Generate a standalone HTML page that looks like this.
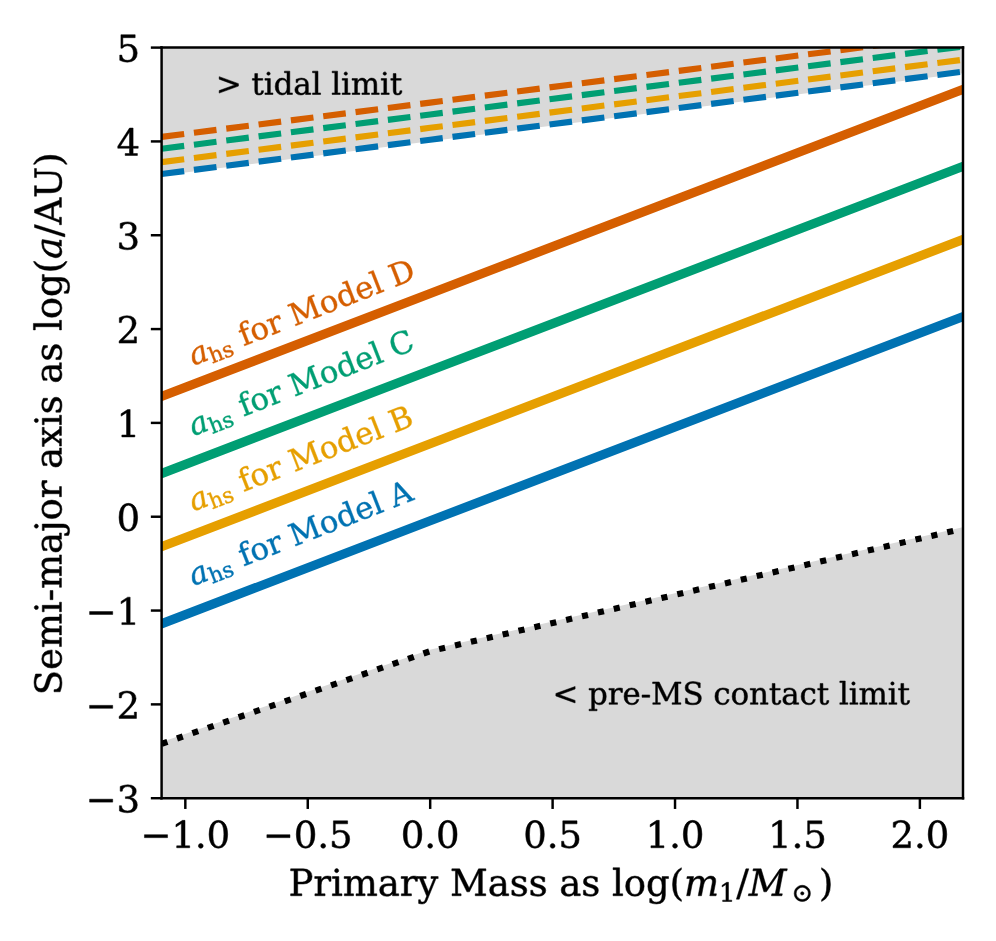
<!DOCTYPE html>
<html><head><meta charset="utf-8"><style>html,body{margin:0;padding:0;background:#fff;font-family:"Liberation Serif",serif;}svg{display:block}g[id^="text_"] path{vector-effect:non-scaling-stroke;stroke-width:0.5px;stroke-linejoin:round}g[id^="text_"]>g{stroke:#000}</style></head><body><svg width="996" height="941" viewBox="0 0 324.000049 306.10848" version="1.1"> <defs> <style type="text/css">*{stroke-linejoin: round; stroke-linecap: butt}</style> </defs> <g id="figure_1"> <g id="patch_1"> <path d="M 0 306.10848 L 324.000049 306.10848 L 324.000049 0 L 0 0 z " style="fill: #ffffff"/> </g> <g id="axes_1"> <g id="patch_2"> <path d="M 52.568683 259.655461 L 313.265107 259.655461 L 313.265107 15.48434 L 52.568683 15.48434 z " style="fill: #ffffff"/> </g> <g id="FillBetweenPolyCollection_1"> <defs> <path id="mc7cbf047a5" d="M 52.568683 -321.14553 L 52.568683 -249.492396 L 139.938193 -260.652135 L 313.265107 -282.791245 L 313.265107 -321.14553 L 313.265107 -321.14553 L 139.938193 -321.14553 L 52.568683 -321.14553 z " style="stroke: #d9d9d9"/> </defs> <g clip-path="url(#pfb9b5e8ee4)"> <use href="#mc7cbf047a5" x="0" y="306.10848" style="fill: #d9d9d9; stroke: #d9d9d9"/> </g> </g> <g id="FillBetweenPolyCollection_2"> <defs> <path id="m329a6cb76b" d="M 52.568683 -64.148741 L 52.568683 -15.931629 L 139.938193 -15.931629 L 313.265107 -15.931629 L 313.265107 -134.130436 L 313.265107 -134.130436 L 139.938193 -94.280037 L 52.568683 -64.148741 z " style="stroke: #d9d9d9"/> </defs> <g clip-path="url(#pfb9b5e8ee4)"> <use href="#m329a6cb76b" x="0" y="306.10848" style="fill: #d9d9d9; stroke: #d9d9d9"/> </g> </g> <g id="matplotlib.axis_1"> <g id="xtick_1"> <g id="line2d_1"> <defs> <path id="m0165115805" d="M 0 0 L 0 3.5 " style="stroke: #000000; stroke-width: 0.8"/> </defs> <g> <use href="#m0165115805" x="60.287621" y="259.655461" style="stroke: #000000; stroke-width: 0.8"/> </g> </g> <g id="text_1"> <g transform="translate(45.717933 275.773586) scale(0.12 -0.12)"> <defs> <path id="gs-2212" d="M 678 2259 L 4684 2259 L 4684 1753 L 678 1753 L 678 2259 z " transform="scale(0.015625)"/> <path id="gs-31" d="M 909 0 L 909 331 L 1722 331 L 1722 4213 L 781 3603 L 781 4013 L 1919 4750 L 2350 4750 L 2350 331 L 3163 331 L 3163 0 L 909 0 z " transform="scale(0.015625)"/> <path id="gs-2e" d="M 603 325 Q 603 500 722 622 Q 841 744 1019 744 Q 1191 744 1312 622 Q 1434 500 1434 325 Q 1434 153 1312 31 Q 1191 -91 1019 -91 Q 841 -91 722 29 Q 603 150 603 325 z " transform="scale(0.015625)"/> <path id="gs-30" d="M 2034 219 Q 2513 219 2750 744 Q 2988 1269 2988 2328 Q 2988 3391 2750 3916 Q 2513 4441 2034 4441 Q 1556 4441 1318 3916 Q 1081 3391 1081 2328 Q 1081 1269 1318 744 Q 1556 219 2034 219 z M 2034 -91 Q 1275 -91 848 546 Q 422 1184 422 2328 Q 422 3475 848 4112 Q 1275 4750 2034 4750 Q 2797 4750 3222 4112 Q 3647 3475 3647 2328 Q 3647 1184 3222 546 Q 2797 -91 2034 -91 z " transform="scale(0.015625)"/> </defs> <use href="#gs-2212"/> <use href="#gs-31" transform="translate(83.789062 0)"/> <use href="#gs-2e" transform="translate(147.412109 0)"/> <use href="#gs-30" transform="translate(179.199219 0)"/> </g> </g> </g> <g id="xtick_2"> <g id="line2d_2"> <g> <use href="#m0165115805" x="100.112907" y="259.655461" style="stroke: #000000; stroke-width: 0.8"/> </g> </g> <g id="text_2"> <g transform="translate(85.543219 275.773586) scale(0.12 -0.12)"> <defs> <path id="gs-35" d="M 3219 4666 L 3219 4153 L 1081 4153 L 1081 2816 Q 1244 2928 1461 2984 Q 1678 3041 1947 3041 Q 2703 3041 3140 2622 Q 3578 2203 3578 1478 Q 3578 738 3136 323 Q 2694 -91 1894 -91 Q 1572 -91 1234 -12 Q 897 66 544 225 L 544 1131 L 897 1131 Q 925 688 1179 453 Q 1434 219 1894 219 Q 2388 219 2653 544 Q 2919 869 2919 1478 Q 2919 2084 2655 2407 Q 2391 2731 1894 2731 Q 1613 2731 1398 2631 Q 1184 2531 1019 2322 L 750 2322 L 750 4666 L 3219 4666 z " transform="scale(0.015625)"/> </defs> <use href="#gs-2212"/> <use href="#gs-30" transform="translate(83.789062 0)"/> <use href="#gs-2e" transform="translate(147.412109 0)"/> <use href="#gs-35" transform="translate(179.199219 0)"/> </g> </g> </g> <g id="xtick_3"> <g id="line2d_3"> <g> <use href="#m0165115805" x="139.938193" y="259.655461" style="stroke: #000000; stroke-width: 0.8"/> </g> </g> <g id="text_3"> <g transform="translate(130.396318 275.773586) scale(0.12 -0.12)"> <use href="#gs-30"/> <use href="#gs-2e" transform="translate(63.623047 0)"/> <use href="#gs-30" transform="translate(95.410156 0)"/> </g> </g> </g> <g id="xtick_4"> <g id="line2d_4"> <g> <use href="#m0165115805" x="179.763479" y="259.655461" style="stroke: #000000; stroke-width: 0.8"/> </g> </g> <g id="text_4"> <g transform="translate(170.221604 275.773586) scale(0.12 -0.12)"> <use href="#gs-30"/> <use href="#gs-2e" transform="translate(63.623047 0)"/> <use href="#gs-35" transform="translate(95.410156 0)"/> </g> </g> </g> <g id="xtick_5"> <g id="line2d_5"> <g> <use href="#m0165115805" x="219.588765" y="259.655461" style="stroke: #000000; stroke-width: 0.8"/> </g> </g> <g id="text_5"> <g transform="translate(210.04689 275.773586) scale(0.12 -0.12)"> <use href="#gs-31"/> <use href="#gs-2e" transform="translate(63.623047 0)"/> <use href="#gs-30" transform="translate(95.410156 0)"/> </g> </g> </g> <g id="xtick_6"> <g id="line2d_6"> <g> <use href="#m0165115805" x="259.414052" y="259.655461" style="stroke: #000000; stroke-width: 0.8"/> </g> </g> <g id="text_6"> <g transform="translate(249.872177 275.773586) scale(0.12 -0.12)"> <use href="#gs-31"/> <use href="#gs-2e" transform="translate(63.623047 0)"/> <use href="#gs-35" transform="translate(95.410156 0)"/> </g> </g> </g> <g id="xtick_7"> <g id="line2d_7"> <g> <use href="#m0165115805" x="299.239338" y="259.655461" style="stroke: #000000; stroke-width: 0.8"/> </g> </g> <g id="text_7"> <g transform="translate(289.697463 275.773586) scale(0.12 -0.12)"> <defs> <path id="gs-32" d="M 819 3553 L 469 3553 L 469 4384 Q 803 4563 1142 4656 Q 1481 4750 1806 4750 Q 2534 4750 2956 4397 Q 3378 4044 3378 3438 Q 3378 2753 2422 1800 Q 2347 1728 2309 1691 L 1131 513 L 3078 513 L 3078 1088 L 3444 1088 L 3444 0 L 434 0 L 434 341 L 1850 1753 Q 2319 2222 2519 2614 Q 2719 3006 2719 3438 Q 2719 3909 2473 4175 Q 2228 4441 1797 4441 Q 1350 4441 1106 4219 Q 863 3997 819 3553 z " transform="scale(0.015625)"/> </defs> <use href="#gs-32"/> <use href="#gs-2e" transform="translate(63.623047 0)"/> <use href="#gs-30" transform="translate(95.410156 0)"/> </g> </g> </g> <g id="text_8"> <g transform="translate(93.874003 291.389211) scale(0.12 -0.12)"> <defs> <path id="gs-50" d="M 1581 2375 L 2406 2375 Q 2872 2375 3115 2626 Q 3359 2878 3359 3353 Q 3359 3831 3115 4081 Q 2872 4331 2406 4331 L 1581 4331 L 1581 2375 z M 353 0 L 353 331 L 947 331 L 947 4331 L 353 4331 L 353 4666 L 2559 4666 Q 3259 4666 3668 4311 Q 4078 3956 4078 3353 Q 4078 2753 3668 2397 Q 3259 2041 2559 2041 L 1581 2041 L 1581 331 L 2303 331 L 2303 0 L 353 0 z " transform="scale(0.015625)"/> <path id="gs-72" d="M 3059 3328 L 3059 2497 L 2728 2497 Q 2713 2744 2591 2866 Q 2469 2988 2234 2988 Q 1809 2988 1582 2694 Q 1356 2400 1356 1850 L 1356 331 L 2022 331 L 2022 0 L 263 0 L 263 331 L 781 331 L 781 2994 L 231 2994 L 231 3322 L 1356 3322 L 1356 2731 Q 1525 3078 1790 3245 Q 2056 3413 2438 3413 Q 2578 3413 2733 3391 Q 2888 3369 3059 3328 z " transform="scale(0.015625)"/> <path id="gs-69" d="M 622 4353 Q 622 4497 726 4603 Q 831 4709 978 4709 Q 1122 4709 1226 4603 Q 1331 4497 1331 4353 Q 1331 4206 1228 4103 Q 1125 4000 978 4000 Q 831 4000 726 4103 Q 622 4206 622 4353 z M 1356 331 L 1900 331 L 1900 0 L 231 0 L 231 331 L 781 331 L 781 2988 L 231 2988 L 231 3322 L 1356 3322 L 1356 331 z " transform="scale(0.015625)"/> <path id="gs-6d" d="M 3316 2675 Q 3481 3041 3739 3227 Q 3997 3413 4341 3413 Q 4863 3413 5119 3089 Q 5375 2766 5375 2113 L 5375 331 L 5894 331 L 5894 0 L 4300 0 L 4300 331 L 4800 331 L 4800 2047 Q 4800 2556 4650 2772 Q 4500 2988 4153 2988 Q 3769 2988 3567 2697 Q 3366 2406 3366 1850 L 3366 331 L 3866 331 L 3866 0 L 2291 0 L 2291 331 L 2791 331 L 2791 2069 Q 2791 2566 2641 2777 Q 2491 2988 2144 2988 Q 1759 2988 1557 2697 Q 1356 2406 1356 1850 L 1356 331 L 1856 331 L 1856 0 L 263 0 L 263 331 L 781 331 L 781 2994 L 231 2994 L 231 3322 L 1356 3322 L 1356 2731 Q 1516 3063 1762 3238 Q 2009 3413 2322 3413 Q 2709 3413 2968 3220 Q 3228 3028 3316 2675 z " transform="scale(0.015625)"/> <path id="gs-61" d="M 2547 1044 L 2547 1747 L 1806 1747 Q 1378 1747 1168 1562 Q 959 1378 959 997 Q 959 650 1171 447 Q 1384 244 1747 244 Q 2106 244 2326 466 Q 2547 688 2547 1044 z M 3122 2075 L 3122 331 L 3634 331 L 3634 0 L 2547 0 L 2547 359 Q 2356 128 2106 18 Q 1856 -91 1522 -91 Q 969 -91 644 203 Q 319 497 319 997 Q 319 1513 691 1797 Q 1063 2081 1741 2081 L 2547 2081 L 2547 2309 Q 2547 2688 2317 2895 Q 2088 3103 1672 3103 Q 1328 3103 1125 2947 Q 922 2791 872 2484 L 575 2484 L 575 3156 Q 875 3284 1158 3348 Q 1441 3413 1709 3413 Q 2400 3413 2761 3070 Q 3122 2728 3122 2075 z " transform="scale(0.015625)"/> <path id="gs-79" d="M 1381 -609 L 1600 -56 L 359 2988 L -19 2988 L -19 3322 L 1509 3322 L 1509 2988 L 978 2988 L 1913 703 L 2847 2988 L 2350 2988 L 2350 3322 L 3597 3322 L 3597 2988 L 3225 2988 L 1703 -750 Q 1547 -1138 1356 -1280 Q 1166 -1422 819 -1422 Q 672 -1422 517 -1397 Q 363 -1372 206 -1325 L 206 -691 L 500 -691 Q 519 -903 608 -995 Q 697 -1088 884 -1088 Q 1056 -1088 1161 -992 Q 1266 -897 1381 -609 z " transform="scale(0.015625)"/> <path id="gs-20" transform="scale(0.015625)"/> <path id="gs-4d" d="M 353 0 L 353 331 L 947 331 L 947 4331 L 319 4331 L 319 4666 L 1678 4666 L 3316 1344 L 4953 4666 L 6228 4666 L 6228 4331 L 5606 4331 L 5606 331 L 6203 331 L 6203 0 L 4378 0 L 4378 331 L 4972 331 L 4972 3938 L 3372 684 L 2931 684 L 1331 3938 L 1331 331 L 1925 331 L 1925 0 L 353 0 z " transform="scale(0.015625)"/> <path id="gs-73" d="M 359 184 L 359 959 L 691 959 Q 703 588 923 403 Q 1144 219 1575 219 Q 1963 219 2166 364 Q 2369 509 2369 788 Q 2369 1006 2220 1140 Q 2072 1275 1594 1428 L 1178 1569 Q 750 1706 558 1912 Q 366 2119 366 2438 Q 366 2894 700 3153 Q 1034 3413 1625 3413 Q 1888 3413 2178 3344 Q 2469 3275 2778 3144 L 2778 2419 L 2447 2419 Q 2434 2741 2221 2922 Q 2009 3103 1644 3103 Q 1281 3103 1095 2975 Q 909 2847 909 2591 Q 909 2381 1050 2254 Q 1191 2128 1613 1997 L 2069 1856 Q 2541 1709 2748 1489 Q 2956 1269 2956 922 Q 2956 450 2595 179 Q 2234 -91 1600 -91 Q 1278 -91 972 -22 Q 666 47 359 184 z " transform="scale(0.015625)"/> <path id="gs-6c" d="M 1313 331 L 1856 331 L 1856 0 L 184 0 L 184 331 L 738 331 L 738 4531 L 184 4531 L 184 4863 L 1313 4863 L 1313 331 z " transform="scale(0.015625)"/> <path id="gs-6f" d="M 1925 219 Q 2388 219 2623 584 Q 2859 950 2859 1663 Q 2859 2375 2623 2739 Q 2388 3103 1925 3103 Q 1463 3103 1227 2739 Q 991 2375 991 1663 Q 991 950 1228 584 Q 1466 219 1925 219 z M 1925 -91 Q 1200 -91 759 389 Q 319 869 319 1663 Q 319 2456 758 2934 Q 1197 3413 1925 3413 Q 2653 3413 3092 2934 Q 3531 2456 3531 1663 Q 3531 869 3092 389 Q 2653 -91 1925 -91 z " transform="scale(0.015625)"/> <path id="gs-67" d="M 3359 2988 L 3359 72 Q 3359 -644 2965 -1033 Q 2572 -1422 1844 -1422 Q 1516 -1422 1216 -1362 Q 916 -1303 641 -1184 L 641 -488 L 941 -488 Q 997 -813 1206 -963 Q 1416 -1113 1806 -1113 Q 2313 -1113 2548 -827 Q 2784 -541 2784 72 L 2784 519 Q 2616 206 2355 57 Q 2094 -91 1709 -91 Q 1097 -91 708 395 Q 319 881 319 1663 Q 319 2444 706 2928 Q 1094 3413 1709 3413 Q 2094 3413 2355 3264 Q 2616 3116 2784 2803 L 2784 3322 L 3909 3322 L 3909 2988 L 3359 2988 z M 2784 1825 Q 2784 2422 2554 2737 Q 2325 3053 1888 3053 Q 1444 3053 1217 2703 Q 991 2353 991 1663 Q 991 975 1217 622 Q 1444 269 1888 269 Q 2325 269 2554 583 Q 2784 897 2784 1497 L 2784 1825 z " transform="scale(0.015625)"/> <path id="gs-28" d="M 2041 -997 Q 1281 -656 893 83 Q 506 822 506 1931 Q 506 3044 893 3783 Q 1281 4522 2041 4863 L 2041 4556 Q 1559 4225 1350 3623 Q 1141 3022 1141 1931 Q 1141 844 1350 242 Q 1559 -359 2041 -691 L 2041 -997 z " transform="scale(0.015625)"/> <path id="gs-Italic-6d" d="M 3503 2675 Q 3741 3041 4034 3227 Q 4328 3413 4672 3413 Q 5194 3413 5388 3088 Q 5503 2894 5503 2578 Q 5503 2372 5453 2113 L 5106 331 L 5625 331 L 5563 0 L 4469 0 L 4866 2047 Q 4913 2291 4913 2466 Q 4913 2659 4856 2772 Q 4750 2988 4403 2988 Q 4019 2988 3761 2697 Q 3503 2406 3394 1850 L 3034 0 L 2459 0 L 2863 2069 Q 2906 2303 2906 2472 Q 2906 2666 2850 2775 Q 2741 2988 2394 2988 Q 2009 2988 1751 2697 Q 1494 2406 1384 1850 L 1025 0 L 450 0 L 1031 2994 L 481 2994 L 544 3322 L 1669 3322 L 1556 2731 Q 1778 3063 2059 3238 Q 2341 3413 2653 3413 Q 3041 3413 3262 3220 Q 3484 3028 3503 2675 z " transform="scale(0.015625)"/> <path id="gs-2f" d="M 1656 4666 L 2156 4666 L 500 -594 L 0 -594 L 1656 4666 z " transform="scale(0.015625)"/> <path id="gs-Italic-4d" d="M -97 0 L -34 331 L 559 331 L 1338 4331 L 709 4331 L 775 4666 L 2134 4666 L 3125 1344 L 5409 4666 L 6684 4666 L 6619 4331 L 5997 4331 L 5222 331 L 5816 331 L 5753 0 L 3928 0 L 3991 331 L 4584 331 L 5288 3938 L 3053 684 L 2613 684 L 1647 3938 L 944 331 L 1538 331 L 1475 0 L -97 0 z " transform="scale(0.015625)"/> <path id="gs-2299" d="M 2263 2006 Q 2263 2181 2383 2301 Q 2503 2422 2681 2422 Q 2853 2422 2975 2300 Q 3097 2178 3097 2006 Q 3097 1831 2975 1711 Q 2853 1591 2681 1591 Q 2503 1591 2383 1709 Q 2263 1828 2263 2006 z M 1378 2759 Q 1175 2413 1175 2006 Q 1175 1600 1378 1253 Q 1581 906 1928 703 Q 2275 500 2681 500 Q 3088 500 3434 703 Q 3781 906 3984 1253 Q 4188 1600 4188 2006 Q 4188 2413 3984 2759 Q 3781 3106 3434 3309 Q 3088 3513 2681 3513 Q 2275 3513 1928 3309 Q 1581 3106 1378 2759 z M 944 1000 Q 675 1463 675 2006 Q 675 2550 944 3012 Q 1213 3475 1675 3744 Q 2138 4013 2681 4013 Q 3225 4013 3687 3744 Q 4150 3475 4419 3012 Q 4688 2550 4688 2006 Q 4688 1463 4419 1000 Q 4150 538 3687 269 Q 3225 0 2681 0 Q 2138 0 1675 269 Q 1213 538 944 1000 z " transform="scale(0.015625)"/> <path id="gs-29" d="M 453 -997 L 453 -691 Q 934 -359 1145 242 Q 1356 844 1356 1931 Q 1356 3022 1145 3623 Q 934 4225 453 4556 L 453 4863 Q 1216 4522 1603 3783 Q 1991 3044 1991 1931 Q 1991 822 1603 83 Q 1216 -656 453 -997 z " transform="scale(0.015625)"/> </defs> <use href="#gs-50" transform="translate(0 0.015625)"/> <use href="#gs-72" transform="translate(67.285156 0.015625)"/> <use href="#gs-69" transform="translate(115.087891 0.015625)"/> <use href="#gs-6d" transform="translate(147.070312 0.015625)"/> <use href="#gs-61" transform="translate(241.894531 0.015625)"/> <use href="#gs-72" transform="translate(301.513672 0.015625)"/> <use href="#gs-79" transform="translate(349.316406 0.015625)"/> <use href="#gs-20" transform="translate(405.810547 0.015625)"/> <use href="#gs-4d" transform="translate(437.597656 0.015625)"/> <use href="#gs-61" transform="translate(539.990234 0.015625)"/> <use href="#gs-73" transform="translate(599.609375 0.015625)"/> <use href="#gs-73" transform="translate(650.927734 0.015625)"/> <use href="#gs-20" transform="translate(702.246094 0.015625)"/> <use href="#gs-61" transform="translate(734.033203 0.015625)"/> <use href="#gs-73" transform="translate(793.652344 0.015625)"/> <use href="#gs-20" transform="translate(844.970703 0.015625)"/> <use href="#gs-6c" transform="translate(876.757812 0.015625)"/> <use href="#gs-6f" transform="translate(908.740234 0.015625)"/> <use href="#gs-67" transform="translate(968.945312 0.015625)"/> <use href="#gs-28" transform="translate(1032.958984 0.015625)"/> <use href="#gs-Italic-6d" transform="translate(1071.972656 0.015625)"/> <use href="#gs-31" transform="translate(1166.796875 -15.55625) scale(0.7)"/> <use href="#gs-2f" transform="translate(1213.92832 0.015625)"/> <use href="#gs-Italic-4d" transform="translate(1247.619727 0.015625)"/> <use href="#gs-2299" transform="translate(1363.287695 -15.55625) scale(0.7)"/> <use href="#gs-29" transform="translate(1437.810742 0.015625)"/> </g> </g> </g> <g id="matplotlib.axis_2"> <g id="ytick_1"> <g id="line2d_8"> <defs> <path id="m427db56b6c" d="M 0 0 L -3.5 0 " style="stroke: #000000; stroke-width: 0.8"/> </defs> <g> <use href="#m427db56b6c" x="52.568683" y="259.655461" style="stroke: #000000; stroke-width: 0.8"/> </g> </g> <g id="text_9"> <g transform="translate(27.878058 264.214523) scale(0.12 -0.12)"> <defs> <path id="gs-33" d="M 622 4469 Q 988 4606 1323 4678 Q 1659 4750 1953 4750 Q 2638 4750 3022 4454 Q 3406 4159 3406 3634 Q 3406 3213 3140 2930 Q 2875 2647 2388 2547 Q 2963 2466 3280 2130 Q 3597 1794 3597 1259 Q 3597 606 3158 257 Q 2719 -91 1894 -91 Q 1528 -91 1179 -12 Q 831 66 488 225 L 488 1131 L 838 1131 Q 869 681 1141 450 Q 1413 219 1906 219 Q 2384 219 2661 495 Q 2938 772 2938 1253 Q 2938 1803 2653 2086 Q 2369 2369 1819 2369 L 1522 2369 L 1522 2688 L 1678 2688 Q 2225 2688 2498 2914 Q 2772 3141 2772 3597 Q 2772 4006 2547 4223 Q 2322 4441 1900 4441 Q 1478 4441 1245 4241 Q 1013 4041 972 3647 L 622 3647 L 622 4469 z " transform="scale(0.015625)"/> </defs> <use href="#gs-2212"/> <use href="#gs-33" transform="translate(83.789062 0)"/> </g> </g> </g> <g id="ytick_2"> <g id="line2d_9"> <g> <use href="#m427db56b6c" x="52.568683" y="229.134071" style="stroke: #000000; stroke-width: 0.8"/> </g> </g> <g id="text_10"> <g transform="translate(27.878058 233.693133) scale(0.12 -0.12)"> <use href="#gs-2212"/> <use href="#gs-32" transform="translate(83.789062 0)"/> </g> </g> </g> <g id="ytick_3"> <g id="line2d_10"> <g> <use href="#m427db56b6c" x="52.568683" y="198.612681" style="stroke: #000000; stroke-width: 0.8"/> </g> </g> <g id="text_11"> <g transform="translate(27.878058 203.171743) scale(0.12 -0.12)"> <use href="#gs-2212"/> <use href="#gs-31" transform="translate(83.789062 0)"/> </g> </g> </g> <g id="ytick_4"> <g id="line2d_11"> <g> <use href="#m427db56b6c" x="52.568683" y="168.09129" style="stroke: #000000; stroke-width: 0.8"/> </g> </g> <g id="text_12"> <g transform="translate(37.933683 172.650353) scale(0.12 -0.12)"> <use href="#gs-30"/> </g> </g> </g> <g id="ytick_5"> <g id="line2d_12"> <g> <use href="#m427db56b6c" x="52.568683" y="137.5699" style="stroke: #000000; stroke-width: 0.8"/> </g> </g> <g id="text_13"> <g transform="translate(37.933683 142.128963) scale(0.12 -0.12)"> <use href="#gs-31"/> </g> </g> </g> <g id="ytick_6"> <g id="line2d_13"> <g> <use href="#m427db56b6c" x="52.568683" y="107.04851" style="stroke: #000000; stroke-width: 0.8"/> </g> </g> <g id="text_14"> <g transform="translate(37.933683 111.607573) scale(0.12 -0.12)"> <use href="#gs-32"/> </g> </g> </g> <g id="ytick_7"> <g id="line2d_14"> <g> <use href="#m427db56b6c" x="52.568683" y="76.52712" style="stroke: #000000; stroke-width: 0.8"/> </g> </g> <g id="text_15"> <g transform="translate(37.933683 81.086182) scale(0.12 -0.12)"> <use href="#gs-33"/> </g> </g> </g> <g id="ytick_8"> <g id="line2d_15"> <g> <use href="#m427db56b6c" x="52.568683" y="46.00573" style="stroke: #000000; stroke-width: 0.8"/> </g> </g> <g id="text_16"> <g transform="translate(37.933683 50.564792) scale(0.12 -0.12)"> <defs> <path id="gs-34" d="M 2234 1581 L 2234 4063 L 641 1581 L 2234 1581 z M 3609 0 L 1484 0 L 1484 331 L 2234 331 L 2234 1247 L 197 1247 L 197 1588 L 2241 4750 L 2859 4750 L 2859 1581 L 3750 1581 L 3750 1247 L 2859 1247 L 2859 331 L 3609 331 L 3609 0 z " transform="scale(0.015625)"/> </defs> <use href="#gs-34"/> </g> </g> </g> <g id="ytick_9"> <g id="line2d_16"> <g> <use href="#m427db56b6c" x="52.568683" y="15.48434" style="stroke: #000000; stroke-width: 0.8"/> </g> </g> <g id="text_17"> <g transform="translate(37.933683 20.043402) scale(0.12 -0.12)"> <use href="#gs-35"/> </g> </g> </g> <g id="text_18"> <g transform="translate(19.983058 226.150141) rotate(-90) scale(0.12 -0.12)"> <defs> <path id="gs-53" d="M 594 225 L 594 1288 L 953 1284 Q 969 753 1261 498 Q 1553 244 2150 244 Q 2706 244 2998 464 Q 3291 684 3291 1106 Q 3291 1444 3114 1625 Q 2938 1806 2369 1978 L 1753 2163 Q 1084 2366 811 2669 Q 538 2972 538 3500 Q 538 4094 959 4422 Q 1381 4750 2144 4750 Q 2469 4750 2856 4679 Q 3244 4609 3681 4475 L 3681 3481 L 3328 3481 Q 3275 3975 2998 4195 Q 2722 4416 2156 4416 Q 1663 4416 1405 4214 Q 1147 4013 1147 3628 Q 1147 3294 1340 3103 Q 1534 2913 2163 2725 L 2741 2553 Q 3375 2363 3645 2067 Q 3916 1772 3916 1275 Q 3916 597 3481 253 Q 3047 -91 2188 -91 Q 1803 -91 1404 -12 Q 1006 66 594 225 z " transform="scale(0.015625)"/> <path id="gs-65" d="M 3469 1600 L 991 1600 L 991 1575 Q 991 903 1244 561 Q 1497 219 1991 219 Q 2369 219 2611 417 Q 2853 616 2950 1006 L 3413 1006 Q 3275 459 2904 184 Q 2534 -91 1931 -91 Q 1203 -91 761 389 Q 319 869 319 1663 Q 319 2450 753 2931 Q 1188 3413 1894 3413 Q 2647 3413 3050 2948 Q 3453 2484 3469 1600 z M 2791 1931 Q 2772 2513 2545 2808 Q 2319 3103 1894 3103 Q 1497 3103 1269 2806 Q 1041 2509 991 1931 L 2791 1931 z " transform="scale(0.015625)"/> <path id="gs-2d" d="M 281 1959 L 1881 1959 L 1881 1472 L 281 1472 L 281 1959 z " transform="scale(0.015625)"/> <path id="gs-6a" d="M 641 4353 Q 641 4497 745 4603 Q 850 4709 997 4709 Q 1141 4709 1245 4603 Q 1350 4497 1350 4353 Q 1350 4206 1248 4103 Q 1147 4000 997 4000 Q 850 4000 745 4103 Q 641 4206 641 4353 z M 781 2988 L 238 2988 L 238 3322 L 1356 3322 L 1356 -325 Q 1356 -838 1051 -1130 Q 747 -1422 213 -1422 Q -13 -1422 -217 -1370 Q -422 -1319 -616 -1216 L -616 -531 L -319 -531 Q -297 -831 -164 -972 Q -31 -1113 225 -1113 Q 509 -1113 645 -920 Q 781 -728 781 -325 L 781 2988 z " transform="scale(0.015625)"/> <path id="gs-78" d="M 1863 2028 L 2559 2988 L 2113 2988 L 2113 3322 L 3391 3322 L 3391 2988 L 2950 2988 L 2059 1759 L 3097 331 L 3531 331 L 3531 0 L 1997 0 L 1997 331 L 2419 331 L 1697 1325 L 972 331 L 1403 331 L 1403 0 L 141 0 L 141 331 L 581 331 L 1497 1594 L 488 2988 L 78 2988 L 78 3322 L 1563 3322 L 1563 2988 L 1166 2988 L 1863 2028 z " transform="scale(0.015625)"/> <path id="gs-Italic-61" d="M 2325 519 Q 1909 -91 1238 -91 Q 688 -91 409 281 Q 216 544 216 919 Q 216 1078 250 1256 Q 463 2359 1231 2928 Q 1884 3413 2675 3413 Q 3206 3413 3388 3322 L 2806 331 L 3300 331 L 3238 0 L 2225 0 L 2325 519 z M 822 938 Q 822 269 1469 269 Q 1863 269 2130 583 Q 2397 897 2516 1497 L 2806 3003 L 2806 3003 Q 2806 3094 2556 3094 Q 1956 3094 1491 2625 Q 1028 2153 863 1297 Q 822 1097 822 938 z " transform="scale(0.015625)"/> <path id="gs-41" d="M 1281 1691 L 2994 1691 L 2138 3909 L 1281 1691 z M -38 0 L -38 331 L 372 331 L 2034 4666 L 2559 4666 L 4225 331 L 4684 331 L 4684 0 L 2988 0 L 2988 331 L 3506 331 L 3116 1356 L 1153 1356 L 763 331 L 1275 331 L 1275 0 L -38 0 z " transform="scale(0.015625)"/> <path id="gs-55" d="M 897 4331 L 300 4331 L 300 4666 L 2125 4666 L 2125 4331 L 1528 4331 L 1528 1919 Q 1528 1025 1820 672 Q 2113 319 2828 319 Q 3544 319 3836 672 Q 4128 1025 4128 1919 L 4128 4331 L 3531 4331 L 3531 4666 L 5106 4666 L 5106 4331 L 4513 4331 L 4513 1856 Q 4513 791 4103 350 Q 3694 -91 2713 -91 Q 1731 -91 1314 353 Q 897 797 897 1856 L 897 4331 z " transform="scale(0.015625)"/> </defs> <use href="#gs-53" transform="translate(0 0.015625)"/> <use href="#gs-65" transform="translate(68.505859 0.015625)"/> <use href="#gs-6d" transform="translate(127.685547 0.015625)"/> <use href="#gs-69" transform="translate(222.509766 0.015625)"/> <use href="#gs-2d" transform="translate(254.492188 0.015625)"/> <use href="#gs-6d" transform="translate(288.28125 0.015625)"/> <use href="#gs-61" transform="translate(383.105469 0.015625)"/> <use href="#gs-6a" transform="translate(442.724609 0.015625)"/> <use href="#gs-6f" transform="translate(473.730469 0.015625)"/> <use href="#gs-72" transform="translate(533.935547 0.015625)"/> <use href="#gs-20" transform="translate(581.738281 0.015625)"/> <use href="#gs-61" transform="translate(613.525391 0.015625)"/> <use href="#gs-78" transform="translate(673.144531 0.015625)"/> <use href="#gs-69" transform="translate(729.541016 0.015625)"/> <use href="#gs-73" transform="translate(761.523438 0.015625)"/> <use href="#gs-20" transform="translate(812.841797 0.015625)"/> <use href="#gs-61" transform="translate(844.628906 0.015625)"/> <use href="#gs-73" transform="translate(904.248047 0.015625)"/> <use href="#gs-20" transform="translate(955.566406 0.015625)"/> <use href="#gs-6c" transform="translate(987.353516 0.015625)"/> <use href="#gs-6f" transform="translate(1019.335938 0.015625)"/> <use href="#gs-67" transform="translate(1079.541016 0.015625)"/> <use href="#gs-28" transform="translate(1143.554688 0.015625)"/> <use href="#gs-Italic-61" transform="translate(1182.568359 0.015625)"/> <use href="#gs-2f" transform="translate(1242.1875 0.015625)"/> <use href="#gs-41" transform="translate(1275.878906 0.015625)"/> <use href="#gs-55" transform="translate(1348.095703 0.015625)"/> <use href="#gs-29" transform="translate(1432.373047 0.015625)"/> </g> </g> </g> <g id="line2d_17"> <path d="M 52.568683 241.959739 L 139.938193 211.828442 L 313.265107 171.978044 " clip-path="url(#pfb9b5e8ee4)" style="fill: none; stroke-dasharray: 2,3.3; stroke-dashoffset: 0; stroke: #000000; stroke-width: 2"/> </g> <g id="line2d_18"> <path d="M 52.568683 56.616084 L 139.938193 45.456345 L 313.265107 23.317235 " clip-path="url(#pfb9b5e8ee4)" style="fill: none; stroke-dasharray: 7.4,3.2; stroke-dashoffset: 0; stroke: #0072b2; stroke-width: 2"/> </g> <g id="line2d_19"> <path d="M 52.568683 52.739868 L 139.938193 41.580128 L 313.265107 19.441018 " clip-path="url(#pfb9b5e8ee4)" style="fill: none; stroke-dasharray: 7.4,3.2; stroke-dashoffset: 0; stroke: #e69f00; stroke-width: 2"/> </g> <g id="line2d_20"> <path d="M 52.568683 48.40583 L 139.938193 37.246091 L 313.265107 15.106981 " clip-path="url(#pfb9b5e8ee4)" style="fill: none; stroke-dasharray: 7.4,3.2; stroke-dashoffset: 0; stroke: #009e73; stroke-width: 2"/> </g> <g id="line2d_21"> <path d="M 52.568683 44.529614 L 139.938193 33.369874 L 313.265107 11.230764 " clip-path="url(#pfb9b5e8ee4)" style="fill: none; stroke-dasharray: 7.4,3.2; stroke-dashoffset: 0; stroke: #d55e00; stroke-width: 2"/> </g> <g id="line2d_22"> <path d="M 52.568683 202.898189 L 139.938193 169.418971 L 313.265107 103.001641 " clip-path="url(#pfb9b5e8ee4)" style="fill: none; stroke: #0072b2; stroke-width: 3; stroke-linecap: square"/> </g> <g id="line2d_23"> <path d="M 52.568683 177.824867 L 139.938193 144.345649 L 313.265107 77.928319 " clip-path="url(#pfb9b5e8ee4)" style="fill: none; stroke: #e69f00; stroke-width: 3; stroke-linecap: square"/> </g> <g id="line2d_24"> <path d="M 52.568683 154.018183 L 139.938193 120.538965 L 313.265107 54.121634 " clip-path="url(#pfb9b5e8ee4)" style="fill: none; stroke: #009e73; stroke-width: 3; stroke-linecap: square"/> </g> <g id="line2d_25"> <path d="M 52.568683 128.960122 L 139.938193 95.480903 L 313.265107 29.063573 " clip-path="url(#pfb9b5e8ee4)" style="fill: none; stroke: #d55e00; stroke-width: 3; stroke-linecap: square"/> </g> <g id="patch_3"> <path d="M 52.568683 259.655461 L 52.568683 15.48434 " style="fill: none; stroke: #000000; stroke-width: 0.8; stroke-linejoin: miter; stroke-linecap: square"/> </g> <g id="patch_4"> <path d="M 313.265107 259.655461 L 313.265107 15.48434 " style="fill: none; stroke: #000000; stroke-width: 0.8; stroke-linejoin: miter; stroke-linecap: square"/> </g> <g id="patch_5"> <path d="M 52.568683 259.655461 L 313.265107 259.655461 " style="fill: none; stroke: #000000; stroke-width: 0.8; stroke-linejoin: miter; stroke-linecap: square"/> </g> <g id="patch_6"> <path d="M 52.568683 15.48434 L 313.265107 15.48434 " style="fill: none; stroke: #000000; stroke-width: 0.8; stroke-linejoin: miter; stroke-linecap: square"/> </g> <g id="text_19"> <g style="fill: #0072b2; stroke: #0072b2" transform="translate(62.91609 190.646598) rotate(-21.35) scale(0.1 -0.1)"> <defs> <path id="gs-68" d="M 263 0 L 263 331 L 781 331 L 781 4531 L 231 4531 L 231 4863 L 1356 4863 L 1356 2731 Q 1516 3069 1770 3241 Q 2025 3413 2363 3413 Q 2913 3413 3172 3097 Q 3431 2781 3431 2113 L 3431 331 L 3944 331 L 3944 0 L 2356 0 L 2356 331 L 2853 331 L 2853 1931 Q 2853 2541 2704 2764 Q 2556 2988 2175 2988 Q 1775 2988 1565 2697 Q 1356 2406 1356 1850 L 1356 331 L 1856 331 L 1856 0 L 263 0 z " transform="scale(0.015625)"/> <path id="gs-66" d="M 2753 4078 L 2450 4078 Q 2447 4313 2317 4434 Q 2188 4556 1941 4556 Q 1619 4556 1487 4379 Q 1356 4203 1356 3750 L 1356 3322 L 2284 3322 L 2284 2988 L 1356 2988 L 1356 331 L 2094 331 L 2094 0 L 231 0 L 231 331 L 781 331 L 781 2988 L 231 2988 L 231 3322 L 781 3322 L 781 3738 Q 781 4294 1070 4578 Q 1359 4863 1919 4863 Q 2128 4863 2337 4825 Q 2547 4788 2753 4709 L 2753 4078 z " transform="scale(0.015625)"/> <path id="gs-64" d="M 3359 331 L 3909 331 L 3909 0 L 2784 0 L 2784 519 Q 2616 206 2355 57 Q 2094 -91 1709 -91 Q 1097 -91 708 395 Q 319 881 319 1663 Q 319 2444 706 2928 Q 1094 3413 1709 3413 Q 2094 3413 2355 3264 Q 2616 3116 2784 2803 L 2784 4531 L 2241 4531 L 2241 4863 L 3359 4863 L 3359 331 z M 2784 1497 L 2784 1825 Q 2784 2422 2554 2737 Q 2325 3053 1888 3053 Q 1444 3053 1217 2703 Q 991 2353 991 1663 Q 991 975 1217 622 Q 1444 269 1888 269 Q 2325 269 2554 583 Q 2784 897 2784 1497 z " transform="scale(0.015625)"/> </defs> <use href="#gs-Italic-61" transform="translate(0 0.015625)"/> <use href="#gs-68" transform="translate(59.619141 -15.55625) scale(0.7)"/> <use href="#gs-73" transform="translate(104.702148 -15.55625) scale(0.7)"/> <use href="#gs-20" transform="translate(143.220313 0.015625)"/> <use href="#gs-66" transform="translate(175.007422 0.015625)"/> <use href="#gs-6f" transform="translate(212.019141 0.015625)"/> <use href="#gs-72" transform="translate(272.224219 0.015625)"/> <use href="#gs-20" transform="translate(320.026953 0.015625)"/> <use href="#gs-4d" transform="translate(351.814062 0.015625)"/> <use href="#gs-6f" transform="translate(454.206641 0.015625)"/> <use href="#gs-64" transform="translate(514.411719 0.015625)"/> <use href="#gs-65" transform="translate(578.425391 0.015625)"/> <use href="#gs-6c" transform="translate(637.605078 0.015625)"/> <use href="#gs-20" transform="translate(669.5875 0.015625)"/> <use href="#gs-41" transform="translate(701.374609 0.015625)"/> </g> </g> <g id="text_20"> <g style="fill: #e69f00; stroke: #e69f00" transform="translate(62.91609 166.412614) rotate(-21.35) scale(0.1 -0.1)"> <defs> <path id="gs-42" d="M 1581 331 L 2516 331 Q 3078 331 3337 575 Q 3597 819 3597 1350 Q 3597 1878 3339 2120 Q 3081 2363 2516 2363 L 1581 2363 L 1581 331 z M 1581 2694 L 2375 2694 Q 2888 2694 3123 2891 Q 3359 3088 3359 3513 Q 3359 3941 3123 4136 Q 2888 4331 2375 4331 L 1581 4331 L 1581 2694 z M 353 0 L 353 331 L 947 331 L 947 4331 L 353 4331 L 353 4666 L 2656 4666 Q 3363 4666 3720 4377 Q 4078 4088 4078 3513 Q 4078 3097 3829 2850 Q 3581 2603 3103 2547 Q 3697 2472 4005 2167 Q 4313 1863 4313 1350 Q 4313 656 3875 328 Q 3438 0 2509 0 L 353 0 z " transform="scale(0.015625)"/> </defs> <use href="#gs-Italic-61" transform="translate(0 0.015625)"/> <use href="#gs-68" transform="translate(59.619141 -15.55625) scale(0.7)"/> <use href="#gs-73" transform="translate(104.702148 -15.55625) scale(0.7)"/> <use href="#gs-20" transform="translate(143.220313 0.015625)"/> <use href="#gs-66" transform="translate(175.007422 0.015625)"/> <use href="#gs-6f" transform="translate(212.019141 0.015625)"/> <use href="#gs-72" transform="translate(272.224219 0.015625)"/> <use href="#gs-20" transform="translate(320.026953 0.015625)"/> <use href="#gs-4d" transform="translate(351.814062 0.015625)"/> <use href="#gs-6f" transform="translate(454.206641 0.015625)"/> <use href="#gs-64" transform="translate(514.411719 0.015625)"/> <use href="#gs-65" transform="translate(578.425391 0.015625)"/> <use href="#gs-6c" transform="translate(637.605078 0.015625)"/> <use href="#gs-20" transform="translate(669.5875 0.015625)"/> <use href="#gs-42" transform="translate(701.374609 0.015625)"/> </g> </g> <g id="text_21"> <g style="fill: #009e73; stroke: #009e73" transform="translate(62.91609 141.903938) rotate(-21.35) scale(0.1 -0.1)"> <defs> <path id="gs-43" d="M 4513 1234 Q 4306 581 3820 245 Q 3334 -91 2591 -91 Q 2134 -91 1743 65 Q 1353 222 1050 525 Q 700 875 529 1320 Q 359 1766 359 2328 Q 359 3416 987 4083 Q 1616 4750 2644 4750 Q 3025 4750 3456 4650 Q 3888 4550 4384 4347 L 4384 3272 L 4031 3272 Q 3916 3859 3567 4137 Q 3219 4416 2591 4416 Q 1844 4416 1459 3886 Q 1075 3356 1075 2328 Q 1075 1303 1459 773 Q 1844 244 2591 244 Q 3113 244 3450 492 Q 3788 741 3938 1234 L 4513 1234 z " transform="scale(0.015625)"/> </defs> <use href="#gs-Italic-61" transform="translate(0 0.015625)"/> <use href="#gs-68" transform="translate(59.619141 -15.55625) scale(0.7)"/> <use href="#gs-73" transform="translate(104.702148 -15.55625) scale(0.7)"/> <use href="#gs-20" transform="translate(143.220313 0.015625)"/> <use href="#gs-66" transform="translate(175.007422 0.015625)"/> <use href="#gs-6f" transform="translate(212.019141 0.015625)"/> <use href="#gs-72" transform="translate(272.224219 0.015625)"/> <use href="#gs-20" transform="translate(320.026953 0.015625)"/> <use href="#gs-4d" transform="translate(351.814062 0.015625)"/> <use href="#gs-6f" transform="translate(454.206641 0.015625)"/> <use href="#gs-64" transform="translate(514.411719 0.015625)"/> <use href="#gs-65" transform="translate(578.425391 0.015625)"/> <use href="#gs-6c" transform="translate(637.605078 0.015625)"/> <use href="#gs-20" transform="translate(669.5875 0.015625)"/> <use href="#gs-43" transform="translate(701.374609 0.015625)"/> </g> </g> <g id="text_22"> <g style="fill: #d55e00; stroke: #d55e00" transform="translate(62.91609 119.012895) rotate(-21.35) scale(0.1 -0.1)"> <defs> <path id="gs-44" d="M 1581 331 L 2163 331 Q 3072 331 3558 850 Q 4044 1369 4044 2338 Q 4044 3306 3559 3818 Q 3075 4331 2163 4331 L 1581 4331 L 1581 331 z M 353 0 L 353 331 L 947 331 L 947 4331 L 353 4331 L 353 4666 L 2209 4666 Q 3416 4666 4089 4050 Q 4763 3434 4763 2338 Q 4763 1238 4088 619 Q 3413 0 2209 0 L 353 0 z " transform="scale(0.015625)"/> </defs> <use href="#gs-Italic-61" transform="translate(0 0.015625)"/> <use href="#gs-68" transform="translate(59.619141 -15.55625) scale(0.7)"/> <use href="#gs-73" transform="translate(104.702148 -15.55625) scale(0.7)"/> <use href="#gs-20" transform="translate(143.220313 0.015625)"/> <use href="#gs-66" transform="translate(175.007422 0.015625)"/> <use href="#gs-6f" transform="translate(212.019141 0.015625)"/> <use href="#gs-72" transform="translate(272.224219 0.015625)"/> <use href="#gs-20" transform="translate(320.026953 0.015625)"/> <use href="#gs-4d" transform="translate(351.814062 0.015625)"/> <use href="#gs-6f" transform="translate(454.206641 0.015625)"/> <use href="#gs-64" transform="translate(514.411719 0.015625)"/> <use href="#gs-65" transform="translate(578.425391 0.015625)"/> <use href="#gs-6c" transform="translate(637.605078 0.015625)"/> <use href="#gs-20" transform="translate(669.5875 0.015625)"/> <use href="#gs-44" transform="translate(701.374609 0.015625)"/> </g> </g> <g id="text_23"> <g transform="translate(70.243942 30.745035) scale(0.1 -0.1)"> <defs> <path id="gs-3e" d="M 678 3188 L 678 3719 L 4684 2266 L 4684 1747 L 678 294 L 678 825 L 3922 2003 L 678 3188 z " transform="scale(0.015625)"/> <path id="gs-74" d="M 691 2988 L 184 2988 L 184 3322 L 691 3322 L 691 4353 L 1269 4353 L 1269 3322 L 2350 3322 L 2350 2988 L 1269 2988 L 1269 878 Q 1269 456 1350 337 Q 1431 219 1650 219 Q 1875 219 1978 351 Q 2081 484 2088 781 L 2522 781 Q 2497 328 2275 118 Q 2053 -91 1600 -91 Q 1103 -91 897 129 Q 691 350 691 878 L 691 2988 z " transform="scale(0.015625)"/> </defs> <use href="#gs-3e"/> <use href="#gs-20" transform="translate(83.789062 0)"/> <use href="#gs-74" transform="translate(115.576172 0)"/> <use href="#gs-69" transform="translate(155.761719 0)"/> <use href="#gs-64" transform="translate(187.744141 0)"/> <use href="#gs-61" transform="translate(251.757812 0)"/> <use href="#gs-6c" transform="translate(311.376953 0)"/> <use href="#gs-20" transform="translate(343.359375 0)"/> <use href="#gs-6c" transform="translate(375.146484 0)"/> <use href="#gs-69" transform="translate(407.128906 0)"/> <use href="#gs-6d" transform="translate(439.111328 0)"/> <use href="#gs-69" transform="translate(533.935547 0)"/> <use href="#gs-74" transform="translate(565.917969 0)"/> </g> </g> <g id="text_24"> <g transform="translate(179.763479 229.134071) scale(0.1 -0.1)"> <defs> <path id="gs-3c" d="M 4684 3188 L 1441 2003 L 4684 825 L 4684 294 L 678 1747 L 678 2266 L 4684 3719 L 4684 3188 z " transform="scale(0.015625)"/> <path id="gs-70" d="M 1313 1825 L 1313 1497 Q 1313 897 1542 583 Q 1772 269 2209 269 Q 2650 269 2876 622 Q 3103 975 3103 1663 Q 3103 2353 2876 2703 Q 2650 3053 2209 3053 Q 1772 3053 1542 2737 Q 1313 2422 1313 1825 z M 738 2988 L 184 2988 L 184 3322 L 1313 3322 L 1313 2803 Q 1481 3116 1742 3264 Q 2003 3413 2388 3413 Q 3000 3413 3387 2928 Q 3775 2444 3775 1663 Q 3775 881 3387 395 Q 3000 -91 2388 -91 Q 2003 -91 1742 57 Q 1481 206 1313 519 L 1313 -997 L 1856 -997 L 1856 -1331 L 184 -1331 L 184 -997 L 738 -997 L 738 2988 z " transform="scale(0.015625)"/> <path id="gs-63" d="M 3291 997 Q 3169 466 2822 187 Q 2475 -91 1925 -91 Q 1200 -91 759 389 Q 319 869 319 1663 Q 319 2459 759 2936 Q 1200 3413 1925 3413 Q 2241 3413 2553 3339 Q 2866 3266 3181 3116 L 3181 2266 L 2847 2266 Q 2781 2703 2561 2903 Q 2341 3103 1931 3103 Q 1466 3103 1228 2742 Q 991 2381 991 1663 Q 991 944 1227 581 Q 1463 219 1931 219 Q 2303 219 2525 412 Q 2747 606 2828 997 L 3291 997 z " transform="scale(0.015625)"/> <path id="gs-6e" d="M 263 0 L 263 331 L 781 331 L 781 2988 L 231 2988 L 231 3322 L 1356 3322 L 1356 2731 Q 1516 3069 1770 3241 Q 2025 3413 2363 3413 Q 2913 3413 3172 3097 Q 3431 2781 3431 2113 L 3431 331 L 3944 331 L 3944 0 L 2356 0 L 2356 331 L 2853 331 L 2853 1931 Q 2853 2541 2703 2767 Q 2553 2994 2175 2994 Q 1775 2994 1565 2701 Q 1356 2409 1356 1850 L 1356 331 L 1856 331 L 1856 0 L 263 0 z " transform="scale(0.015625)"/> </defs> <use href="#gs-3c"/> <use href="#gs-20" transform="translate(83.789062 0)"/> <use href="#gs-70" transform="translate(115.576172 0)"/> <use href="#gs-72" transform="translate(179.589844 0)"/> <use href="#gs-65" transform="translate(227.392578 0)"/> <use href="#gs-2d" transform="translate(286.572266 0)"/> <use href="#gs-4d" transform="translate(320.361328 0)"/> <use href="#gs-53" transform="translate(422.753906 0)"/> <use href="#gs-20" transform="translate(491.259766 0)"/> <use href="#gs-63" transform="translate(523.046875 0)"/> <use href="#gs-6f" transform="translate(579.052734 0)"/> <use href="#gs-6e" transform="translate(639.257812 0)"/> <use href="#gs-74" transform="translate(703.662109 0)"/> <use href="#gs-61" transform="translate(743.847656 0)"/> <use href="#gs-63" transform="translate(803.466797 0)"/> <use href="#gs-74" transform="translate(859.472656 0)"/> <use href="#gs-20" transform="translate(899.658203 0)"/> <use href="#gs-6c" transform="translate(931.445312 0)"/> <use href="#gs-69" transform="translate(963.427734 0)"/> <use href="#gs-6d" transform="translate(995.410156 0)"/> <use href="#gs-69" transform="translate(1090.234375 0)"/> <use href="#gs-74" transform="translate(1122.216797 0)"/> </g> </g> </g> </g> <defs> <clipPath id="pfb9b5e8ee4"> <rect x="52.568683" y="15.48434" width="260.696425" height="244.171121"/> </clipPath> </defs> </svg> </body></html>
